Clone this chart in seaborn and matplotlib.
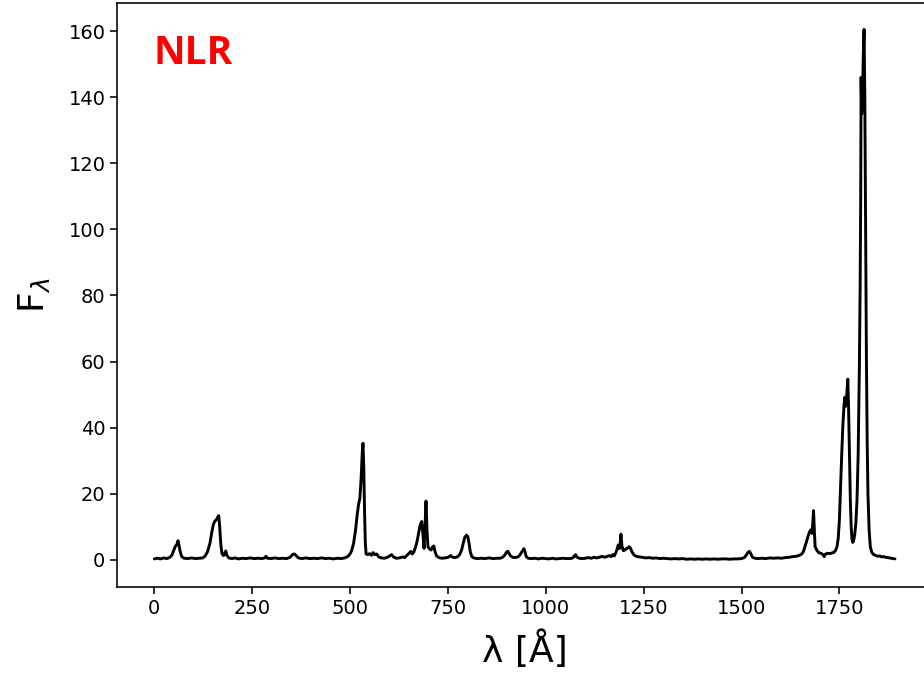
import matplotlib
matplotlib.use("Agg")
import matplotlib.pyplot as plt
import seaborn as sns
import pandas as pd

wavelength = [
    0, 8, 16, 24, 32, 40, 45, 50, 54, 57, 60.5, 63, 66, 70, 76, 85, 95, 105, 115, 124,
    130, 136, 142, 147, 151, 154, 157, 160, 162, 164.5, 167, 170, 173, 177, 180, 182.5, 185, 190, 198, 206,
    215, 225, 235, 245, 255, 265, 275, 282, 285, 289, 298, 308, 318, 328, 338, 347, 353, 358, 363, 368,
    377, 387, 397, 407, 417, 427, 437, 447, 457, 467, 477, 486, 494, 500, 504, 509, 514, 518, 522, 525,
    528, 531, 533, 535, 537, 539, 541, 545, 550, 555, 559, 563, 568, 573, 580, 588, 596, 601, 606, 611,
    618, 626, 634, 640, 646, 651, 655, 659, 663, 667, 671, 675, 679, 683, 686, 689, 691.5, 694, 696.5, 699,
    703, 707, 711, 714, 717, 721, 727, 735, 743, 751, 757, 762, 769, 775, 780, 785, 789, 793, 797.5, 801,
    804, 807, 811, 816, 825, 835, 845, 855, 865, 875, 884, 891, 896, 900, 903, 906, 910, 915, 922, 929,
    934, 938, 941, 944, 947, 950, 955, 963, 972, 981, 990, 999, 1008, 1017, 1026, 1035, 1044, 1053, 1062, 1069,
    1073, 1076, 1079, 1085, 1093, 1101, 1109, 1116, 1123, 1130, 1137, 1144, 1150, 1156, 1162, 1167, 1171, 1175, 1179, 1182,
    1185, 1188, 1190, 1192, 1194.5, 1198, 1202, 1206, 1210, 1213, 1216, 1220, 1225, 1231, 1238, 1246, 1255, 1264, 1273, 1282,
    1291, 1300, 1310, 1320, 1330, 1340, 1350, 1360, 1370, 1380, 1390, 1400, 1410, 1420, 1430, 1440, 1450, 1460, 1470, 1480,
    1490, 1500, 1507, 1512, 1516, 1520, 1524, 1528, 1534, 1542, 1552, 1562, 1572, 1582, 1592, 1602, 1612, 1622, 1632, 1640,
    1648, 1654, 1658, 1662, 1666, 1670, 1674, 1677, 1680, 1682, 1684, 1686, 1688, 1692, 1697, 1703, 1708, 1711, 1715, 1720,
    1726, 1731, 1736, 1740, 1744, 1747, 1750, 1753, 1756, 1759, 1762, 1764, 1766, 1768, 1771.5, 1773.5, 1776, 1778, 1780, 1782,
    1784, 1786, 1789, 1792, 1795, 1798, 1801, 1803, 1804.5, 1805.5, 1807, 1809, 1811, 1813, 1815, 1817, 1819, 1821, 1823, 1826,
    1829, 1833, 1838, 1843, 1848, 1853, 1858, 1863, 1868, 1873, 1878, 1883, 1888, 1892,
]

flux = [
    0.3, 0.5, 0.3, 0.6, 0.4, 0.8, 1.5, 3.0, 4.2, 4.5, 5.8, 4.5, 2.5, 1.0, 0.5, 0.4, 0.6, 0.4, 0.5, 0.6,
    1.2, 2.5, 5.0, 8.5, 10.8, 11.6, 12.0, 12.4, 13.0, 13.4, 10.0, 4.5, 1.8, 1.3, 2.0, 2.7, 1.5, 0.6, 0.4, 0.6,
    0.3, 0.5, 0.4, 0.6, 0.4, 0.5, 0.4, 0.6, 1.1, 0.5, 0.4, 0.6, 0.4, 0.5, 0.4, 0.8, 1.6, 1.8, 1.2, 0.6,
    0.4, 0.6, 0.4, 0.5, 0.4, 0.6, 0.4, 0.5, 0.3, 0.5, 0.4, 0.6, 1.0, 1.8, 2.8, 5.0, 9.0, 13.5, 17.0, 18.5,
    24.0, 32.0, 35.3, 28.0, 15.0, 5.0, 1.8, 1.6, 1.9, 1.4, 2.2, 1.6, 1.8, 0.9, 0.6, 0.5, 0.8, 1.2, 1.6, 0.9,
    0.5, 0.6, 0.9, 0.7, 1.5, 2.0, 2.6, 1.8, 2.4, 3.8, 5.5, 8.0, 10.5, 11.6, 8.0, 3.5, 10.0, 17.8, 9.0, 4.0,
    3.3, 3.0, 4.0, 4.2, 2.5, 1.2, 0.7, 0.5, 0.6, 0.8, 1.3, 0.8, 0.7, 1.0, 1.6, 3.0, 5.0, 6.8, 7.5, 7.0,
    5.0, 2.5, 1.0, 0.6, 0.4, 0.5, 0.4, 0.6, 0.4, 0.5, 0.5, 0.9, 1.6, 2.4, 2.6, 2.0, 1.2, 0.8, 0.7, 0.9,
    1.5, 2.3, 2.8, 3.4, 2.4, 1.0, 0.5, 0.4, 0.5, 0.3, 0.5, 0.4, 0.3, 0.5, 0.3, 0.4, 0.5, 0.4, 0.4, 0.6,
    1.2, 1.6, 0.9, 0.5, 0.4, 0.5, 0.7, 0.5, 0.8, 0.6, 0.8, 1.1, 0.8, 1.0, 1.3, 1.0, 1.6, 1.2, 2.2, 3.2,
    4.5, 3.4, 5.0, 7.8, 4.2, 2.8, 3.0, 3.4, 3.6, 4.0, 3.6, 2.5, 1.5, 1.1, 0.9, 0.8, 0.6, 0.7, 0.5, 0.6,
    0.4, 0.5, 0.4, 0.3, 0.4, 0.3, 0.4, 0.2, 0.3, 0.2, 0.3, 0.2, 0.3, 0.2, 0.3, 0.2, 0.3, 0.3, 0.2, 0.3,
    0.3, 0.4, 0.7, 1.4, 2.2, 2.6, 1.8, 0.8, 0.5, 0.4, 0.5, 0.4, 0.6, 0.5, 0.6, 0.5, 0.7, 0.8, 1.0, 1.1,
    1.4, 1.8, 2.5, 4.0, 5.5, 7.2, 8.5, 9.1, 8.0, 11.0, 14.9, 9.0, 4.0, 3.0, 2.2, 2.0, 1.6, 1.0, 1.8, 2.0,
    1.9, 2.1, 2.3, 2.8, 4.0, 6.5, 12.0, 22.0, 32.0, 41.0, 47.0, 49.2, 46.5, 48.5, 54.7, 46.0, 30.0, 18.0, 10.5, 6.5,
    5.3, 5.6, 7.5, 11.0, 18.0, 32.0, 58.0, 82.0, 110.0, 146.0, 135.0, 140.0, 152.0, 160.5, 140.0, 100.0, 62.0, 36.0, 20.0, 9.0,
    4.0, 2.2, 1.6, 1.3, 1.1, 1.2, 0.9, 1.0, 0.8, 0.7, 0.6, 0.5, 0.4, 0.3,
]

y_ticks = [0, 20, 40, 60, 80, 100, 120, 140, 160]
x_ticks = [0, 250, 500, 750, 1000, 1250, 1500, 1750]
panel_label = "NLR"

sns.set_style("ticks")
plt.rcParams["font.family"] = ["DejaVu Sans"]

df = pd.DataFrame({"wavelength": wavelength, "flux": flux})

fig = plt.figure(figsize=(9.24, 6.73), dpi=100)
ax = fig.add_axes([117.3 / 924, (673 - 587) / 673, (932 - 117.3) / 924, 584 / 673])

sns.lineplot(data=df, x="wavelength", y="flux", ax=ax, color="black",
             linewidth=2.1, sort=False, estimator=None)

ax.set_xlim(-94.6, 1986.6)
ax.set_ylim(-8.2, 168.5)
ax.set_xticks(x_ticks)
ax.set_yticks(y_ticks)
ax.tick_params(axis="both", labelsize=14, length=5, width=1.15, color="black",
               labelcolor="black", direction="out")
for s in ax.spines.values():
    s.set_linewidth(1.15)
    s.set_color("black")

ax.set_xlabel("λ [Å]", fontsize=26, color="black", labelpad=9)
ax.set_ylabel(r"F$_\lambda$", fontsize=26, color="black", labelpad=12)

ax.text(0.044, 0.8955, panel_label, transform=ax.transAxes, ha="left", va="baseline",
        fontsize=28, fontweight="bold", color="#ff0000", family=["Open Sans", "DejaVu Sans"])

fig.savefig("out.png", dpi=100)
